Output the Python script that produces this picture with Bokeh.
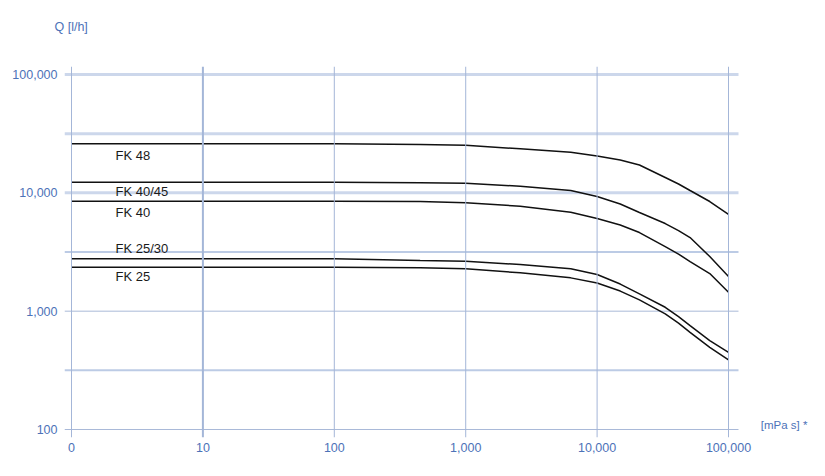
from bokeh.plotting import figure
from bokeh.models import Range1d, FixedTicker, Span, Label, ColumnDataSource, Title
from bokeh.core.properties import value
from bokeh.embed import file_html
from bokeh.resources import INLINE

# ---- data ----
viscosity = [1, 10, 100, 450, 1000, 2600, 6300, 10000, 15000, 21000, 33000, 41650, 51000, 72000, 100000]
fk48    = [26000, 26000, 26000, 25600, 25260, 23550, 22040, 20470, 18940, 17180, 13470, 11870, 10460, 8445, 6580]
fk40_45 = [12290, 12290, 12290, 12150, 12050, 11370, 10460, 9305, 8043, 6815, 5502, 4800, 4190, 2894, 1961]
fk40    = [8490, 8490, 8490, 8445, 8234, 7703, 6855, 6066, 5343, 4617, 3517, 3038, 2627, 2079, 1444]
fk25_30 = [2768, 2768, 2768, 2677, 2641, 2476, 2279, 2039, 1695, 1401, 1079, 900, 755, 564, 449]
fk25    = [2350, 2350, 2350, 2323, 2279, 2108, 1912, 1728, 1479, 1246, 949, 793, 663, 495, 387]

series_names = ["FK 48", "FK 40/45", "FK 40", "FK 25/30", "FK 25"]
series_values = [fk48, fk40_45, fk40, fk25_30, fk25]
name_x = [2.16, 2.16, 2.16, 2.16, 2.16]
name_y = [20670, 10260, 6855, 3363, 1972]

x_ticks = [1, 10, 100, 1000, 10000, 100000]
x_tick_labels = ["0", "10", "100", "1,000", "10,000", "100,000"]
y_ticks = [100, 1000, 10000, 100000]
y_tick_labels = ["100", "1,000", "10,000", "100,000"]

FONT = "Liberation Sans"
BLUE_TXT = "#4d72b8"

X0, X1 = 0.8845, 119130      # grid extent (x)
XR = 413400                  # frame extends right to hold the unit text

p = figure(x_axis_type="log", y_axis_type="log",
           output_backend="svg", toolbar_location=None,
           x_range=Range1d(X0, XR), y_range=Range1d(85.6, 116850),
           min_border_left=64, min_border_right=0, min_border_top=66, min_border_bottom=23,
           frame_width=745, frame_height=371)
p.outline_line_color = None
p.background_fill_color = "white"
p.border_fill_color = "white"
p.xgrid.visible = False
p.ygrid.visible = False

# horizontal grid lines
grid_specs = [([100, 1000], "#a9b9d8", 1),
              ([316.23, 3162.3], "#bccbe5", 2),
              ([10000, 31623, 100000], "#ccd7eb", 3)]
for vals, col, w in grid_specs:
    p.segment(x0=[X0] * len(vals), x1=[X1] * len(vals), y0=vals, y1=vals,
              line_color=col, line_width=w)
# vertical grid lines
for v in x_ticks:
    w = 2 if v == 10 else 1
    p.add_layout(Span(location=v, dimension="height", line_color="#a4b6d8", line_width=w))

# axes
p.xaxis.ticker = FixedTicker(ticks=x_ticks)
p.xaxis.major_label_overrides = {t: l for t, l in zip(x_ticks, x_tick_labels)}
p.yaxis.ticker = FixedTicker(ticks=y_ticks)
p.yaxis.major_label_overrides = {t: l for t, l in zip(y_ticks, y_tick_labels)}
for ax in (p.xaxis[0], p.yaxis[0]):
    ax.axis_line_color = None
    ax.major_tick_line_color = None
    ax.minor_tick_line_color = None
    ax.major_tick_out = 0
    ax.major_tick_in = 0
    ax.major_label_text_font = FONT
    ax.major_label_text_font_size = "12.5px"
    ax.major_label_text_color = BLUE_TXT
p.xaxis.major_label_standoff = 5
p.yaxis.major_label_standoff = 7

# curves
for vals in series_values:
    p.line(viscosity, vals, line_color="#111111", line_width=1.5)

src = ColumnDataSource(dict(x=name_x, y=name_y, t=series_names))
p.text(x="x", y="y", text="t", source=src, text_font=value(FONT), text_font_size="13px",
       text_color="#1a1a1a", text_align="left", text_baseline="middle")

# axis titles
p.title = Title(text="Q [l/h]", align="left", offset=-10, standoff=0,
                padding=dict(top=0, right=0, bottom=33, left=0),
                text_font=FONT, text_font_size="12.5px", text_font_style="normal",
                text_color=BLUE_TXT)
p.add_layout(Label(x=176000, y=108.9, text="[mPa s] *", text_font=FONT, text_font_size="11.5px",
                   text_color=BLUE_TXT, text_baseline="middle", text_align="left"))

open("out.html", "w").write(file_html(p, INLINE))
